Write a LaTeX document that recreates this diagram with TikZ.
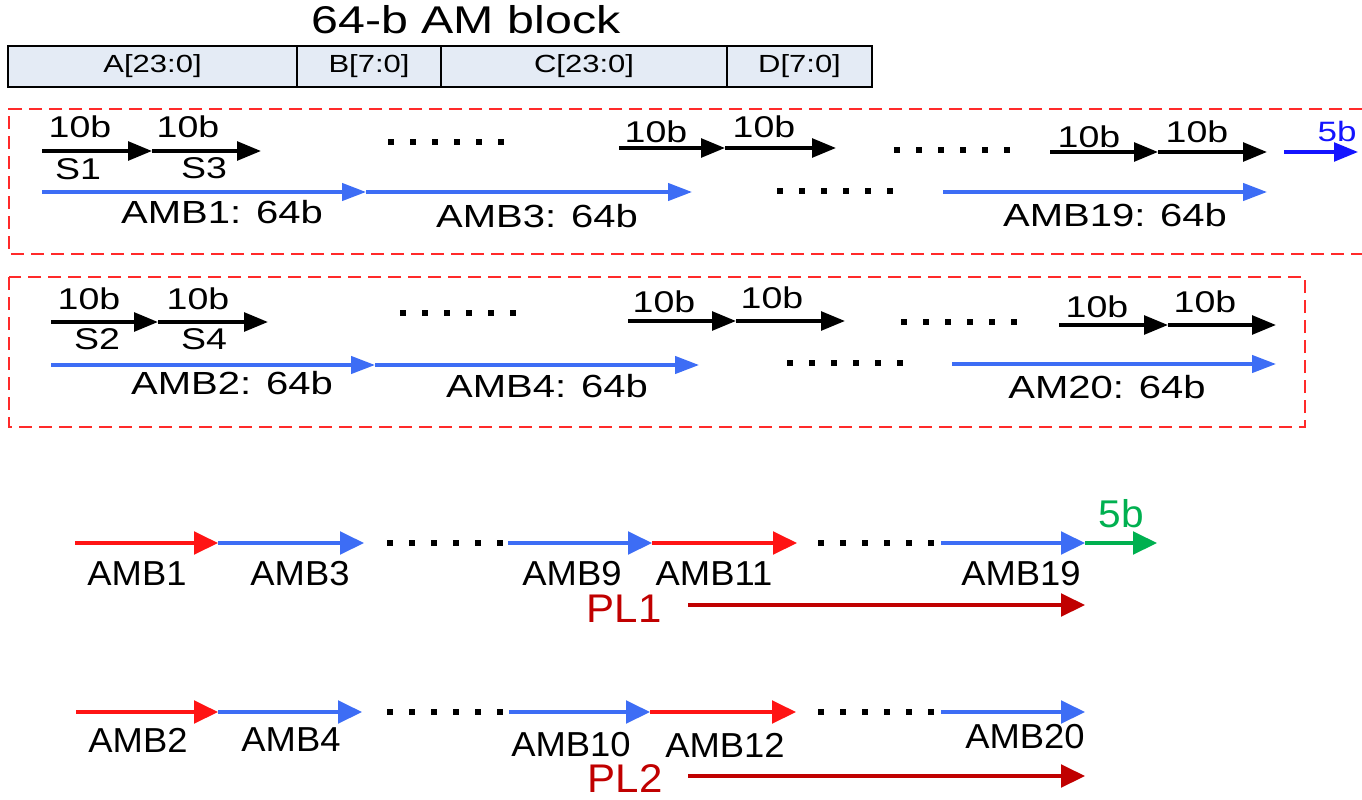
\documentclass[tikz,border=0pt]{standalone}
\usepackage{fontspec}
\setmainfont{Liberation Sans}[FakeStretch=1.05]
\newfontfamily\wideface{Liberation Sans}[FakeStretch=1.25]
\usetikzlibrary{arrows.meta}

\definecolor{amblue}{HTML}{3D6DF5}
\definecolor{amred}{HTML}{FF1414}
\definecolor{pldark}{HTML}{C00000}
\definecolor{amgreen}{HTML}{00B050}
\definecolor{framered}{HTML}{FF2A2A}
\definecolor{cellfill}{HTML}{E4EBF5}
\definecolor{tailblue}{HTML}{1414FF}

\begin{document}
\begin{tikzpicture}[x=0.75pt,y=-0.75pt,
  title/.style={font=\wideface\fontsize{29}{33}\selectfont, inner sep=0pt},
  cell/.style={draw=black, line width=0.8pt, fill=cellfill, minimum height=30.75pt,
    inner sep=0pt, font=\wideface\fontsize{18.6}{21}\selectfont},
  bits/.style={font=\wideface\fontsize{22.5}{25}\selectfont, inner sep=0pt},
  amlbl/.style={font=\wideface\fontsize{24}{27}\selectfont, inner sep=0pt},
  lanelbl/.style={font=\fontsize{26}{30}\selectfont, inner sep=0pt},
  pllbl/.style={font=\fontsize{30}{34}\selectfont, text=pldark, inner sep=0pt},
  frame/.style={draw=framered, line width=1.4pt, dash pattern=on 10pt off 5pt},
  seg/.style={draw=black, line width=2.8pt, -{Triangle[length=18pt,width=14pt]}},
  amseg/.style={draw=amblue, line width=2.5pt, -{Triangle[length=18pt,width=13pt]}},
  lane/.style={line width=2.5pt, -{Triangle[length=18pt,width=17pt]}},
  gap/.style={draw=black, line width=4.3pt, dash pattern=on 4.3pt off 12.2pt},
]
\useasboundingbox (0,0) rectangle (1362,799);

% ---- AM block layout ----
\node[title] (ttl) at (466,20) {64-b AM block};
\node[cell, minimum width=216.75pt] (fa) at (152.5,66.5) {A[23:0]};
\node[cell, minimum width=108pt]    (fb) at (369,66.5)   {B[7:0]};
\node[cell, minimum width=214.5pt]  (fc) at (584,66.5)   {C[23:0]};
\node[cell, minimum width=108.75pt] (fd) at (799.5,66.5) {D[7:0]};

% ---- lane group 1 (odd blocks) ----
\draw[frame] (1362,109) -- (9,109) -- (9,254) -- (1362,254);

\coordinate (p1) at (42,151);  \coordinate (p2) at (152,151);  \coordinate (p3) at (261,151);
\coordinate (p4) at (619,148); \coordinate (p5) at (725,148);  \coordinate (p6) at (836,148);
\coordinate (p7) at (1050,152);\coordinate (p8) at (1158,152); \coordinate (p9) at (1267,152);
\coordinate (q1) at (1284,152);\coordinate (q2) at (1358,152);
\draw[seg] (p1) -- (p2); \draw[seg] (p2) -- (p3);
\draw[seg] (p4) -- (p5); \draw[seg] (p5) -- (p6);
\draw[seg] (p7) -- (p8); \draw[seg] (p8) -- (p9);
\draw[seg, draw=tailblue, line width=2.5pt] (q1) -- (q2);
\coordinate (u1) at (388,142); \coordinate (u2) at (504,142);
\coordinate (u3) at (894,150); \coordinate (u4) at (1010,150);
\draw[gap] (u1) -- (u2); \draw[gap] (u3) -- (u4);

\node[bits] (n1) at (80,127)   {10b};
\node[bits] (n2) at (188,127)  {10b};
\node[bits] (n3) at (656,132)  {10b};
\node[bits] (n4) at (764,127)  {10b};
\node[bits] (n5) at (1089,137) {10b};
\node[bits] (n6) at (1197,132) {10b};
\node[bits] (s1) at (78,169)   {S1};
\node[bits] (s3) at (204,168)  {S3};
\node[bits, text=tailblue, font=\wideface\fontsize{21}{24}\selectfont] (t5) at (1337,131) {5b};

\coordinate (b1) at (42,192);  \coordinate (b2) at (366,192); \coordinate (b3) at (692,192);
\coordinate (b4) at (943,192); \coordinate (b5) at (1267,192);
\draw[amseg] (b1) -- (b2); \draw[amseg] (b2) -- (b3); \draw[amseg] (b4) -- (b5);
\coordinate (v1) at (777,191); \coordinate (v2) at (893,191);
\draw[gap] (v1) -- (v2);
\node[amlbl] (a1)  at (222,212)  {AMB1: 64b};
\node[amlbl] (a3)  at (537,216)  {AMB3: 64b};
\node[amlbl] (a19) at (1115,215) {AMB19: 64b};

% ---- lane group 2 (even blocks) ----
\draw[frame] (9,277) rectangle (1305,427);

\coordinate (r1) at (51,322);  \coordinate (r2) at (158,322);  \coordinate (r3) at (268,322);
\coordinate (r4) at (628,321); \coordinate (r5) at (736,321);  \coordinate (r6) at (845,321);
\coordinate (r7) at (1059,325);\coordinate (r8) at (1168,325); \coordinate (r9) at (1276,325);
\draw[seg] (r1) -- (r2); \draw[seg] (r2) -- (r3);
\draw[seg] (r4) -- (r5); \draw[seg] (r5) -- (r6);
\draw[seg] (r7) -- (r8); \draw[seg] (r8) -- (r9);
\coordinate (w1) at (400,313); \coordinate (w2) at (516,313);
\coordinate (w3) at (901,322); \coordinate (w4) at (1017,322);
\draw[gap] (w1) -- (w2); \draw[gap] (w3) -- (w4);

\node[bits] (m1) at (89,299)   {10b};
\node[bits] (m2) at (198,299)  {10b};
\node[bits] (m3) at (664,302)  {10b};
\node[bits] (m4) at (772,298)  {10b};
\node[bits] (m5) at (1097,307) {10b};
\node[bits] (m6) at (1205,302) {10b};
\node[bits] (s2) at (97,339)   {S2};
\node[bits] (s4) at (204,339)  {S4};

\coordinate (c1) at (51,365);  \coordinate (c2) at (375,365); \coordinate (c3) at (699,365);
\coordinate (c4) at (952,364); \coordinate (c5) at (1276,364);
\draw[amseg] (c1) -- (c2); \draw[amseg] (c2) -- (c3); \draw[amseg] (c4) -- (c5);
\coordinate (x1) at (787,363); \coordinate (x2) at (903,363);
\draw[gap] (x1) -- (x2);
\node[amlbl] (a2)  at (232,383)  {AMB2: 64b};
\node[amlbl] (a4)  at (547,386)  {AMB4: 64b};
\node[amlbl] (a20) at (1107,387) {AM20: 64b};

% ---- physical lane 1 ----
\coordinate (d1) at (75,543);  \coordinate (d2) at (218,543); \coordinate (d3) at (364,543);
\coordinate (d4) at (508,543); \coordinate (d5) at (652,543); \coordinate (d6) at (797,543);
\coordinate (d7) at (941,543); \coordinate (d8) at (1085,543);\coordinate (d9) at (1157,543);
\draw[lane, draw=amred] (d1) -- (d2);
\draw[lane, draw=amblue] (d2) -- (d3);
\draw[lane, draw=amblue] (d4) -- (d5);
\draw[lane, draw=amred] (d5) -- (d6);
\draw[lane, draw=amblue] (d7) -- (d8);
\draw[lane, draw=amgreen] (d8) -- (d9);
\coordinate (y1) at (387,543); \coordinate (y2) at (503,543);
\coordinate (y3) at (818,543); \coordinate (y4) at (934,543);
\draw[gap] (y1) -- (y2); \draw[gap] (y3) -- (y4);

\node[lanelbl] (l1)  at (137,574)  {AMB1};
\node[lanelbl] (l3)  at (300,574)  {AMB3};
\node[lanelbl] (l9)  at (572,574)  {AMB9};
\node[lanelbl] (l11) at (714,574)  {AMB11};
\node[lanelbl] (l19) at (1021,574) {AMB19};
\node[lanelbl, text=amgreen, font=\fontsize{29}{33}\selectfont] (g5) at (1121,514) {5b};
\node[pllbl] (pl1) at (624,609) {PL1};
\coordinate (e1) at (688,605); \coordinate (e2) at (1085,605);
\draw[lane, draw=pldark] (e1) -- (e2);

% ---- physical lane 2 ----
\coordinate (f1) at (76,712);  \coordinate (f2) at (218,712); \coordinate (f3) at (362,712);
\coordinate (f4) at (509,712); \coordinate (f5) at (650,712); \coordinate (f6) at (796,712);
\coordinate (f7) at (941,712); \coordinate (f8) at (1085,712);
\draw[lane, draw=amred] (f1) -- (f2);
\draw[lane, draw=amblue] (f2) -- (f3);
\draw[lane, draw=amblue] (f4) -- (f5);
\draw[lane, draw=amred] (f5) -- (f6);
\draw[lane, draw=amblue] (f7) -- (f8);
\coordinate (z1) at (387,712); \coordinate (z2) at (503,712);
\coordinate (z3) at (818,712); \coordinate (z4) at (934,712);
\draw[gap] (z1) -- (z2); \draw[gap] (z3) -- (z4);

\node[lanelbl] (k2)  at (138,740)  {AMB2};
\node[lanelbl] (k4)  at (291,740)  {AMB4};
\node[lanelbl] (k10) at (571,745)  {AMB10};
\node[lanelbl] (k12) at (725,745)  {AMB12};
\node[lanelbl] (k20) at (1025,737) {AMB20};
\node[pllbl] (pl2) at (625,779) {PL2};
\coordinate (h1) at (688,776); \coordinate (h2) at (1085,776);
\draw[lane, draw=pldark] (h1) -- (h2);
\end{tikzpicture}
\end{document}
